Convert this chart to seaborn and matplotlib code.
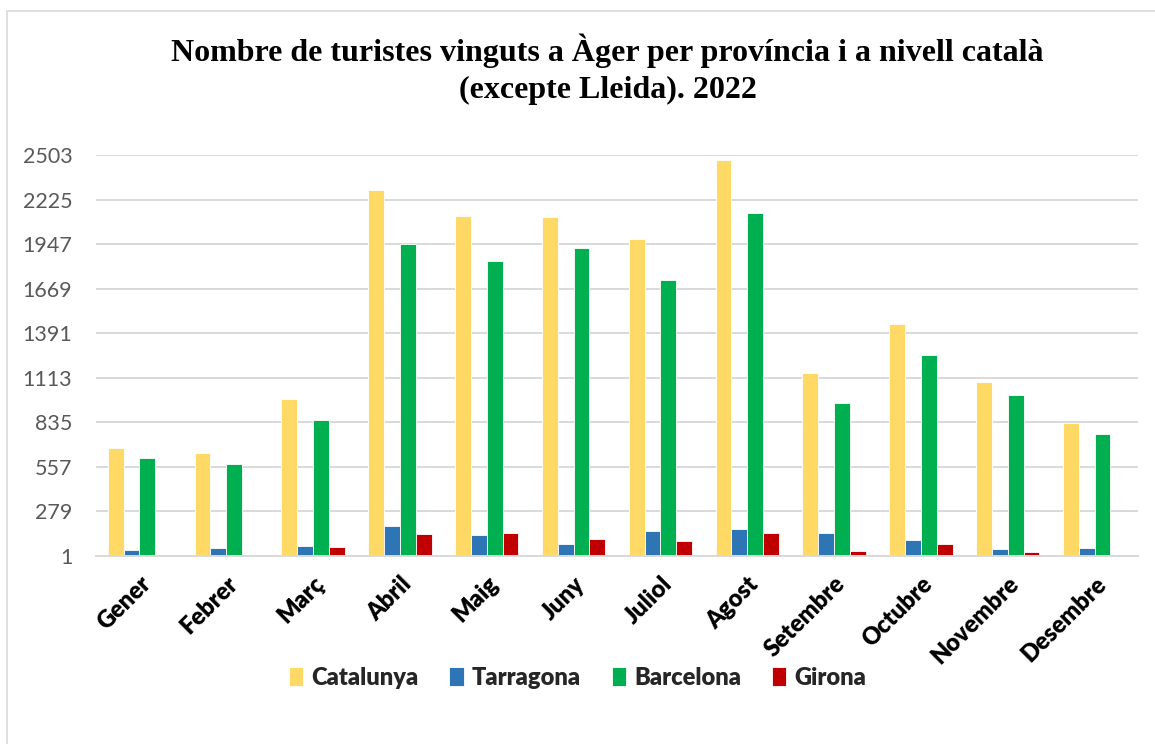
import pandas as pd
import seaborn as sns
import matplotlib.pyplot as plt
from matplotlib.patches import Rectangle

mesos = ['Gener', 'Febrer', 'Març', 'Abril', 'Maig', 'Juny', 'Juliol',
         'Agost', 'Setembre', 'Octubre', 'Novembre', 'Desembre']
catalunya = [677, 644, 978, 2286, 2123, 2117, 1979, 2470, 1143, 1449, 1088, 832]
tarragona = [41, 49, 64, 187, 130, 78, 155, 172, 143, 99, 47, 53]
barcelona = [612, 573, 850, 1947, 1842, 1921, 1723, 2144, 953, 1257, 1007, 761]
girona = [0, 0, 55, 139, 143, 110, 93, 143, 34, 78, 26, 0]

series = ['Catalunya', 'Tarragona', 'Barcelona', 'Girona']
colors = ['#FFD966', '#2E75B6', '#00B050', '#C00000']
yticks = [1, 279, 557, 835, 1113, 1391, 1669, 1947, 2225, 2503]

rows = []
for name, vals in zip(series, [catalunya, tarragona, barcelona, girona]):
    for m, v in zip(mesos, vals):
        rows.append({'Mes': m, 'Serie': name, 'Turistes': v})
df = pd.DataFrame(rows)

sns.set_style('white')
plt.rcParams['font.family'] = ['Lato', 'DejaVu Sans']

fig = plt.figure(figsize=(11.55, 7.44), dpi=100)
ax = fig.add_axes([0.0831, 0.2527, 0.9022, 0.539])

sns.barplot(data=df, x='Mes', y='Turistes', hue='Serie', order=mesos,
            hue_order=series, palette=colors, width=0.73, ax=ax,
            edgecolor='white', linewidth=0.6, saturation=1, errorbar=None)

ax.set_ylim(1, 2503)
ax.set_xlim(-0.5, 11.5)
ax.set_yticks(yticks)
ax.set_yticklabels([str(t) for t in yticks], fontsize=15.5, color='#595959')
ax.yaxis.grid(True, color='#D9D9D9', linewidth=1.4)
ax.set_axisbelow(True)
for s in ['top', 'right', 'left']:
    ax.spines[s].set_visible(False)
ax.spines['bottom'].set_color('#D9D9D9')
ax.spines['bottom'].set_linewidth(1.4)
ax.tick_params(axis='y', length=0, pad=17)
ax.set_xlabel('')
ax.set_ylabel('')
ax.set_xticks(range(len(mesos)))
ax.set_xticklabels(mesos, rotation=45, ha='right', rotation_mode='anchor',
                   fontsize=17, fontweight='heavy', color='black')
ax.tick_params(axis='x', length=0, pad=12)

handles, labels = ax.get_legend_handles_labels()
ax.legend_.remove()
fig.legend(handles, labels, loc='center', bbox_to_anchor=(0.5, 0.089), ncol=4, frameon=False,
           prop={'size': 17, 'weight': 'heavy'}, handlelength=0.6, handleheight=0.9,
           handletextpad=0.35, columnspacing=1.3)

fig.text(0.526, 0.955,
         'Nombre de turistes vinguts a Àger per província i a nivell català\n(excepte Lleida). 2022',
         ha='center', va='top', fontsize=23, fontweight='bold', family='Liberation Serif',
         linespacing=1.35, color='black')

fig.patches.append(Rectangle((0.006, -0.01), 1.0, 0.995, transform=fig.transFigure,
                             fill=False, edgecolor='#D9D9D9', linewidth=1.2))

fig.savefig('out.png', dpi=100)
